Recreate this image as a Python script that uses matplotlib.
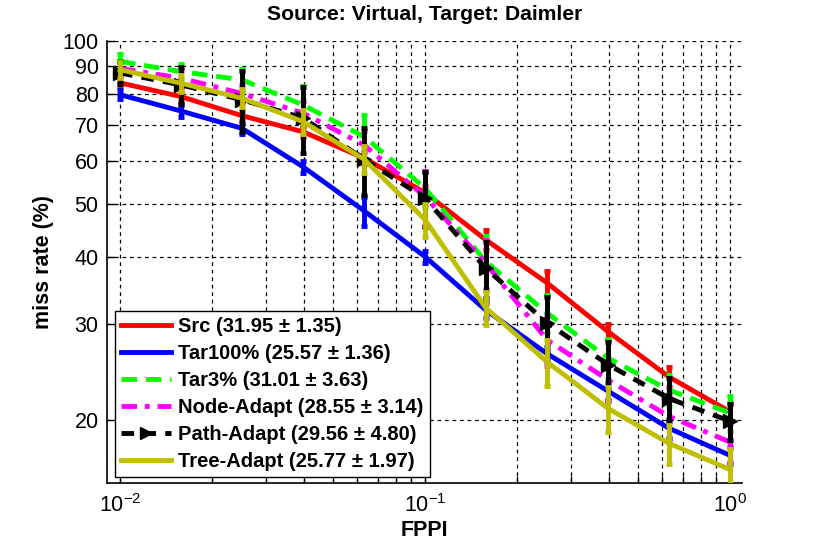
import matplotlib
matplotlib.use("Agg")
import matplotlib.pyplot as plt
from matplotlib.lines import Line2D
from matplotlib.ticker import FixedLocator, LogLocator, NullFormatter, FixedFormatter
import numpy as np

plt.rcParams['font.family'] = ['Liberation Sans', 'DejaVu Sans']
plt.rcParams['mathtext.fontset'] = 'custom'
plt.rcParams['mathtext.rm'] = 'Liberation Sans'
plt.rcParams['mathtext.it'] = 'Liberation Sans'

fppi = [0.01, 0.0158, 0.0251, 0.0398, 0.0631, 0.1, 0.158, 0.251, 0.398, 0.631, 1.0]

src = [83.7, 79.0, 72.8, 68.0, 60.8, 52.5, 43.0, 35.8, 29.1, 24.0, 20.7]
src_err = [1.5, 1.5, 1.5, 1.5, 1.5, 1.5, 1.8, 1.8, 1.0, 1.0, 0.8]

tar100 = [79.6, 74.3, 69.0, 58.6, 48.6, 40.0, 31.9, 26.5, 22.6, 19.3, 17.2]
tar100_err = [1.5, 2.0, 1.5, 1.5, 3.0, 1.0, 1.0, 0.8, 0.8, 0.8, 0.6]

tar3 = [91.7, 87.8, 84.8, 76.2, 66.6, 53.5, 39.2, 31.5, 26.0, 22.7, 20.6]
tar3_err = [3.0, 3.0, 4.0, 6.5, 6.5, 4.0, 4.5, 2.5, 2.2, 1.5, 1.5]

node = [89.0, 85.4, 80.0, 73.6, 64.3, 51.6, 38.9, 28.1, 23.7, 20.3, 18.2]
node_err = [3.0, 3.0, 3.0, 4.0, 4.0, 6.0, 4.0, 3.0, 2.0, 2.0, 1.5]

path = [87.3, 83.0, 77.9, 72.1, 60.5, 51.3, 38.1, 30.2, 25.3, 21.9, 19.9]
path_err = [4.0, 6.5, 10.0, 10.0, 8.5, 6.0, 4.5, 3.5, 2.5, 2.0, 1.5]

tree = [88.5, 83.6, 78.4, 71.0, 60.5, 46.8, 32.2, 25.6, 21.0, 18.1, 16.2]
tree_err = [3.0, 3.0, 3.0, 3.5, 3.5, 3.3, 2.3, 2.5, 2.0, 1.5, 1.5]

labels = ["Src (31.95 \u00b1 1.35)", "Tar100% (25.57 \u00b1 1.36)", "Tar3% (31.01 \u00b1 3.63)",
          "Node-Adapt (28.55 \u00b1 3.14)", "Path-Adapt (29.56 \u00b1 4.80)", "Tree-Adapt (25.77 \u00b1 1.97)"]

yticks = [20, 30, 40, 50, 60, 70, 80, 90, 100]

series = [
    (src, src_err, (1, 0, 0), '-', None),
    (tar100, tar100_err, (0, 0, 1), '-', None),
    (tar3, tar3_err, (0, 1, 0), (0, (3.2, 1.8)), None),
    (node, node_err, (1, 0, 1), (0, (3.2, 1.6, 1.0, 1.6)), None),
    (path, path_err, (0, 0, 0), (0, (2.6, 1.9)), '>'),
    (tree, tree_err, (0.75, 0.75, 0), '-', None),
]

fig = plt.figure(figsize=(8.21, 5.5), dpi=100)
ax = fig.add_axes([0.1303, 0.1218, 0.7735, 0.8037])
ax.set_xscale('log')
ax.set_yscale('log')

handles = []
for i, (vals, errs, col, ls, mk) in enumerate(series):
    ax.errorbar(fppi, vals, yerr=errs, fmt='none', ecolor=col, elinewidth=3.5,
                capsize=2.5, capthick=3.5, zorder=2 + i)
    ax.plot(fppi, vals, color=col, linestyle=ls, linewidth=3.5, zorder=2 + i,
            marker=mk, markersize=10, markerfacecolor=col, markeredgecolor=col)
    handles.append(Line2D([0], [0], color=col, linestyle=ls, linewidth=3.5,
                          marker=mk, markersize=9, markerfacecolor=col, markeredgecolor=col))

ax.set_xlim(0.00906, 1.094)
ax.set_ylim(15.3, 100)

ax.yaxis.set_major_locator(FixedLocator(yticks))
ax.yaxis.set_major_formatter(FixedFormatter([str(t) for t in yticks]))
ax.yaxis.set_minor_locator(FixedLocator([]))
ax.yaxis.set_minor_formatter(NullFormatter())
ax.xaxis.set_major_locator(FixedLocator([0.01, 0.1, 1.0]))
ax.xaxis.set_major_formatter(FixedFormatter(['$10^{-2}$', '$10^{-1}$', '$10^{0}$']))
ax.xaxis.set_minor_locator(LogLocator(base=10, subs=np.arange(2, 10)))
ax.xaxis.set_minor_formatter(NullFormatter())

ax.grid(True, which='both', color='black', linestyle=(0, (3, 3)), linewidth=0.9)
ax.set_axisbelow(True)

for s in ['top', 'right']:
    ax.spines[s].set_visible(False)
for s in ['left', 'bottom']:
    ax.spines[s].set_linewidth(1.2)

ax.tick_params(axis='both', which='both', direction='in', labelsize=15.5, width=1, colors='black')
ax.tick_params(axis='both', which='major', length=6)
ax.tick_params(axis='both', which='minor', length=5)
ax.tick_params(axis='x', which='major', pad=8)
ax.tick_params(axis='y', which='major', pad=6)

ax.set_title("Source: Virtual, Target: Daimler", fontsize=15.2, fontweight='bold', pad=15)
ax.set_xlabel("FPPI", fontsize=15.5, fontweight='bold', labelpad=2)
ax.set_ylabel("miss rate (%)", fontsize=15.5, fontweight='bold', labelpad=6)

leg = ax.legend(handles, labels, loc='lower left', bbox_to_anchor=(0.0126, 0.0136),
                borderaxespad=0, fancybox=False, framealpha=1, edgecolor='black',
                prop={'weight': 'bold', 'size': 14.5}, handlelength=2.5,
                handletextpad=0.35, labelspacing=0.4, borderpad=0.3)
leg.get_frame().set_linewidth(1.0)
leg.set_zorder(20)

fig.savefig("out.png", dpi=100)
